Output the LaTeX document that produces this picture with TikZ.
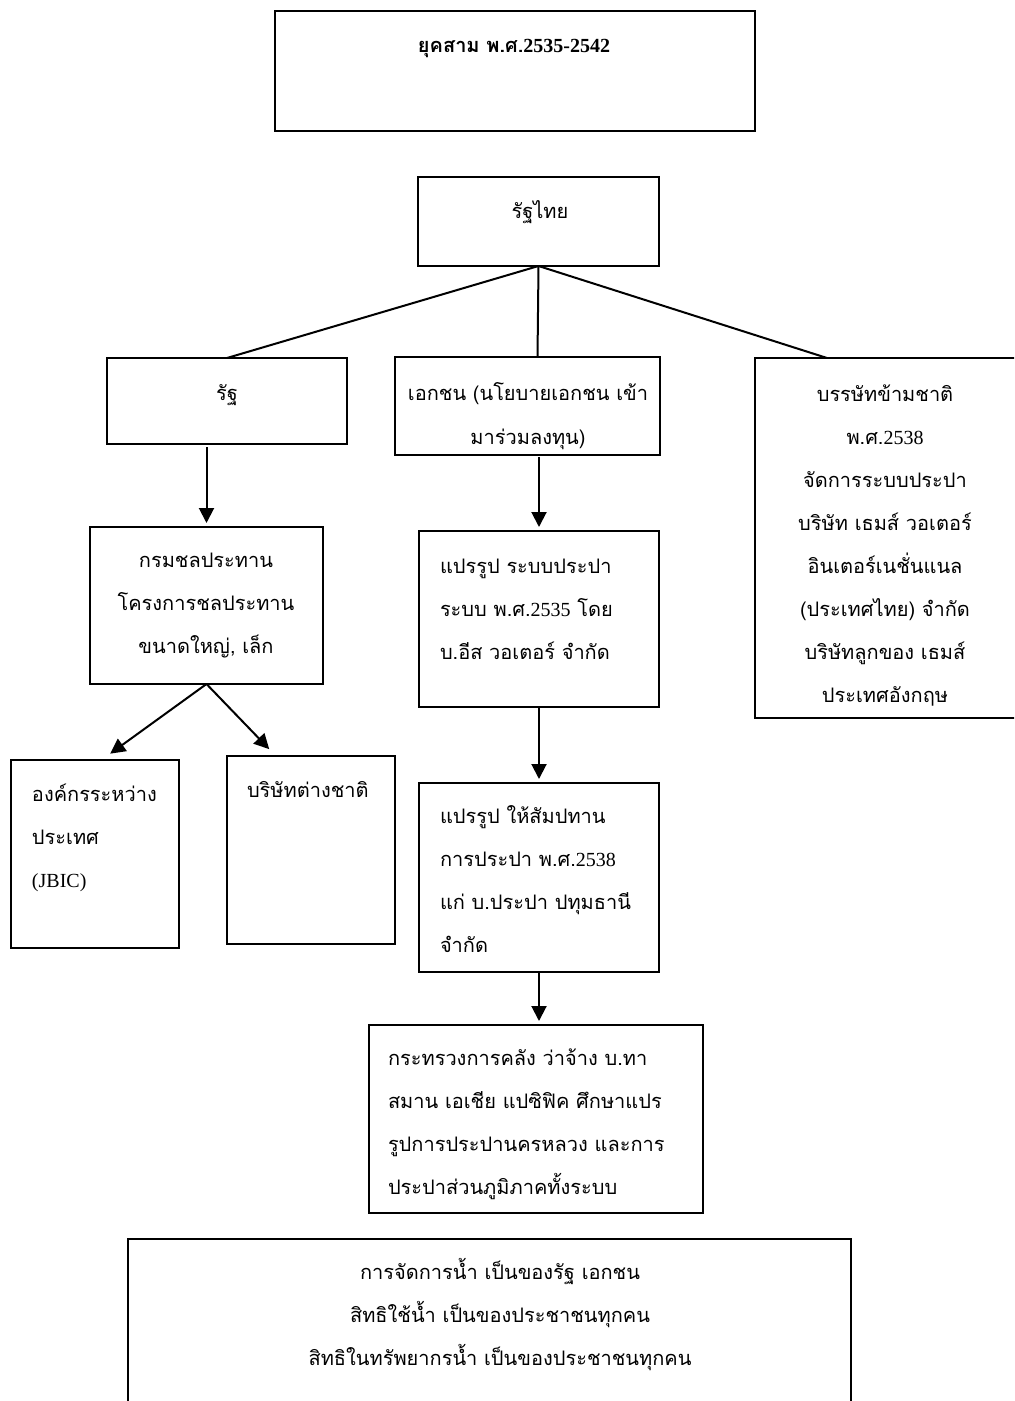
\documentclass[tikz,border=0pt]{standalone}
\usepackage{fontspec}
\newfontfamily\thaifont[Script=Thai]{Loma}
\newfontfamily\latf{Liberation Serif}
\newcommand{\lt}[1]{{\latf #1}}
\usetikzlibrary{arrows.meta}
\newcommand{\boxat}[5]{\node[box, minimum width={(#4-#2)*0.5pt}, minimum height={(#5-#3)*0.5pt}] (#1) at ({(#2+#4)/2},{(#3+#5)/2}) {};}
\begin{document}
\begin{tikzpicture}[x=0.5pt,y=-0.5pt,
  box/.style={draw, line width=1pt, inner sep=0pt, outer sep=0pt},
  txt/.style={inner sep=0pt, outer sep=0pt, font=\thaifont\fontsize{10}{21.5}\selectfont},
  link/.style={line width=1pt},
  arr/.style={line width=1pt, -{Triangle[length=7.5pt,width=7.5pt]}, shorten >=2pt},
]
\useasboundingbox (0,0) rectangle (1014,1401);
\clip (0,0) rectangle (1014,1401);

% boxes
\boxat{title}{275}{11}{755}{131}
\boxat{thai}{418}{177}{659}{266}
\boxat{rat}{107}{358}{347}{444}
\boxat{ekachon}{395}{357}{660}{455}
\boxat{trans}{755}{358}{1017}{718}
\boxat{irr}{90}{527}{323}{684}
\boxat{jbic}{11}{760}{179}{948}
\boxat{foreign}{227}{756}{395}{944}
\boxat{privA}{419}{531}{659}{707}
\boxat{privB}{419}{783}{659}{972}
\boxat{mof}{369}{1025}{703}{1213}
\boxat{bottom}{128}{1239}{851}{1425}

% texts (base anchor = baseline of the last line)
\node[txt, anchor=base, font=\thaifont\bfseries\fontsize{10}{21.5}\selectfont] (titletxt) at (514,53) {ยุคสาม พ.ศ.\lt{2535-2542}};
\node[txt, anchor=base] (thaitxt) at (540,219) {รัฐไทย};
\node[txt, anchor=base] (rattxt) at (227,400) {รัฐ};
\node[txt, anchor=base, align=center] (ekachontxt) at (528,444) {เอกชน (นโยบายเอกชน เข้า\\มาร่วมลงทุน)};
\node[txt, anchor=base, align=center] (transtxt) at (885,702) {บรรษัทข้ามชาติ\\พ.ศ.\lt{2538}\\จัดการระบบประปา\\บริษัท เธมส์ วอเตอร์\\อินเตอร์เนชั่นแนล\\(ประเทศไทย) จำกัด\\บริษัทลูกของ เธมส์\\ประเทศอังกฤษ};
\node[txt, anchor=base, align=center] (irrtxt) at (206,653) {กรมชลประทาน\\โครงการชลประทาน\\ขนาดใหญ่, เล็ก};
\node[txt, anchor=base west, align=left] (jbictxt) at (32,887) {องค์กรระหว่าง\\ประเทศ\\\lt{(JBIC)}};
\node[txt, anchor=base west, align=left] (foreigntxt) at (247,797) {บริษัทต่างชาติ};
\node[txt, anchor=base west, align=left] (privAtxt) at (440,659) {แปรรูป ระบบประปา\\ระบบ พ.ศ.\lt{2535} โดย\\บ.อีส วอเตอร์ จำกัด};
\node[txt, anchor=base west, align=left] (privBtxt) at (440,952) {แปรรูป ให้สัมปทาน\\การประปา พ.ศ.\lt{2538}\\แก่ บ.ประปา ปทุมธานี\\จำกัด};
\node[txt, anchor=base west, align=left] (moftxt) at (388,1194) {กระทรวงการคลัง ว่าจ้าง บ.ทา\\สมาน เอเชีย แปซิฟิค ศึกษาแปร\\รูปการประปานครหลวง และการ\\ประปาส่วนภูมิภาคทั้งระบบ};
\node[txt, anchor=base, align=center] (bottomtxt) at (500,1365) {การจัดการน้ำ เป็นของรัฐ เอกชน\\สิทธิใช้น้ำ เป็นของประชาชนทุกคน\\สิทธิในทรัพยากรน้ำ เป็นของประชาชนทุกคน};

% connectors
\draw[link] (thai.south) -- (rat.north);
\draw[link] (thai.south) -- ([xshift=5pt]ekachon.north);
\draw[link] (thai.south) -- ([xshift=36pt]trans.north west);
\draw[arr] ([yshift=-1.5pt]irr.north |- rat.south) -- (irr.north);
\draw[arr] (irr.south) -- ([xshift=6pt,yshift=2pt]jbic.north);
\draw[arr] (irr.south) -- ([xshift=-19.5pt,yshift=2pt]foreign.north);
\draw[arr] ([yshift=-1pt]privA.north |- ekachon.south) -- (privA.north);
\draw[arr] (privA.south) -- (privB.north);
\draw[arr] (privB.south) -- (privB.south |- mof.north);
\end{tikzpicture}
\end{document}
